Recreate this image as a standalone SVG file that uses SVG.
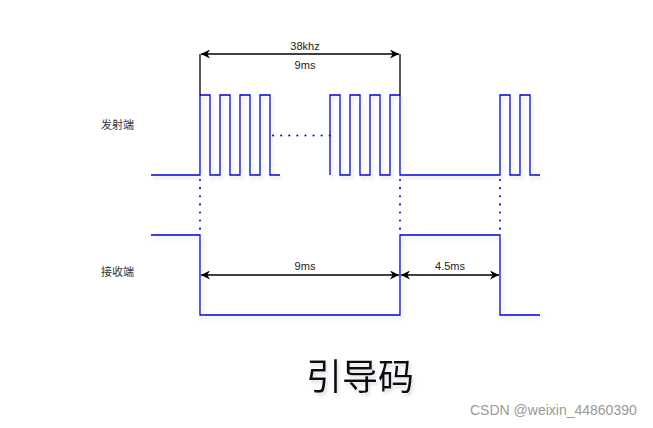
<svg xmlns="http://www.w3.org/2000/svg" width="653" height="428" viewBox="0 0 653 428">
<style>
.wave{fill:none;stroke:#0000DD;stroke-width:1.3;filter:url(#sh)}
.dot{fill:none;stroke:#0000DD;stroke-width:2;stroke-dasharray:0.1 8;stroke-linecap:round}
.dim{fill:none;stroke:#000;stroke-width:1.3}
.t{font-family:"Liberation Sans",Arial,sans-serif;font-size:11px;fill:#222;text-anchor:middle}
.c{font-family:"Noto Sans CJK SC","Liberation Sans",sans-serif;font-size:11px;fill:#333}
</style>
<defs>
<filter id="sh" x="-10%" y="-10%" width="130%" height="130%">
<feDropShadow dx="2" dy="3" stdDeviation="1.5" flood-color="#8080a0" flood-opacity="0.25"/>
</filter>
<marker id="a" viewBox="0 0 10 10" refX="10" refY="5" markerWidth="9" markerHeight="9" orient="auto-start-reverse" markerUnits="userSpaceOnUse">
<path d="M0,0 L10,5 L0,10 L3,5 Z" fill="#000"/>
</marker>
</defs>
<rect width="653" height="428" fill="#fff"/>
<g id="labels">
<text class="c" x="101" y="129">发射端</text>
<text class="c" x="101" y="276">接收端</text>
</g>
<g id="tx">
<path class="wave" d="M151,175 H200 V95 H210 V175 H220 V95 H230 V175 H240 V95 H250 V175 H260 V95 H270 V175 H280"/>
<path class="wave" d="M330,175 V95 H340 V175 H350 V95 H360 V175 H370 V95 H380 V175 H390 V95 H400 V175 H500 V95 H510 V175 H520 V95 H530 V175 H540"/>
<path class="dot" d="M273,135.5 H330"/>
</g>
<g id="rx">
<path class="wave" d="M151,235 H200 V315 H400 V235 H500 V315 H540"/>
</g>
<g id="connectors">
<path class="dot" d="M200,180 V236"/>
<path class="dot" d="M400,180 V236"/>
<path class="dot" d="M500,180 V236"/>
<path class="dim" d="M200,95 V54 M400,95 V54"/>
<path class="dim" d="M201,54 H399" marker-start="url(#a)" marker-end="url(#a)"/>
<path class="dim" d="M201,275 H399" marker-start="url(#a)" marker-end="url(#a)"/>
<path class="dim" d="M401,275 H499" marker-start="url(#a)" marker-end="url(#a)"/>
</g>
<g id="texts">
<text class="t" x="305" y="50">38khz</text>
<text class="t" x="305" y="69">9ms</text>
<text class="t" x="305" y="270">9ms</text>
<text class="t" x="450" y="270">4.5ms</text>
<text x="306" y="390" font-family="Noto Sans CJK SC,sans-serif" font-size="36" fill="#111" filter="url(#sh)">引导码</text>
<text x="470" y="415" font-family="Liberation Sans,Arial,sans-serif" font-size="14" fill="#999">CSDN @weixin_44860390</text>
</g>
</svg>
